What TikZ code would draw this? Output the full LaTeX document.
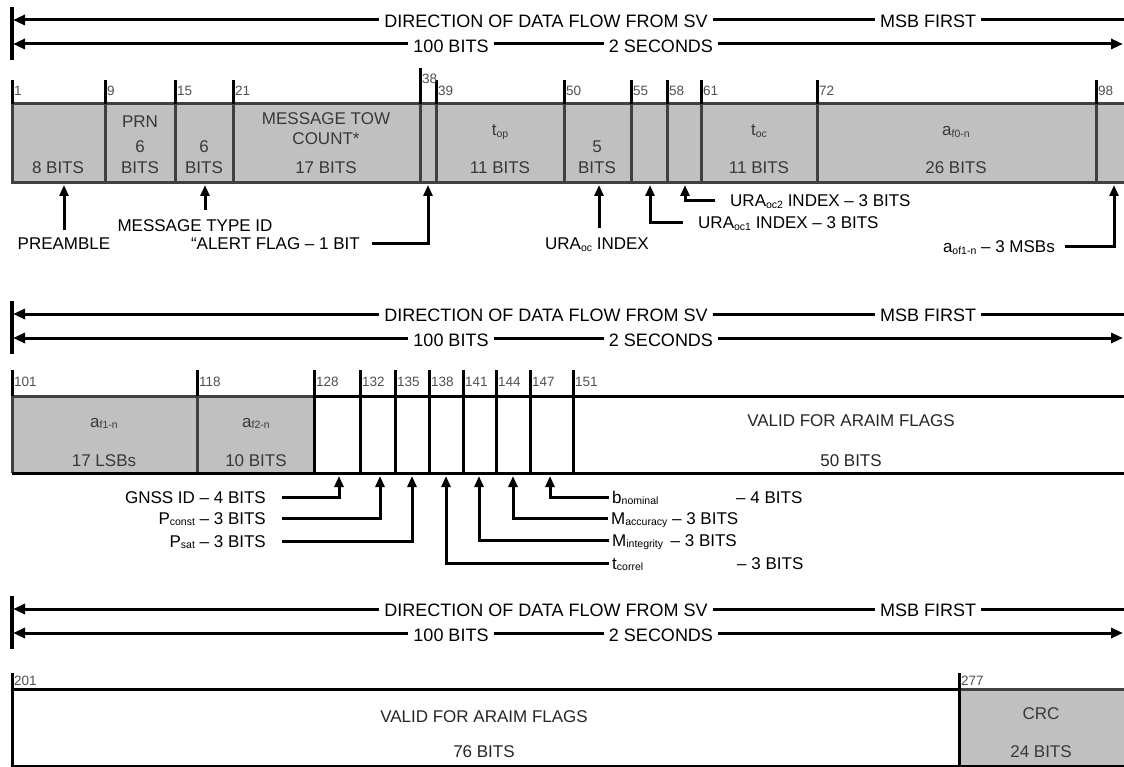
\documentclass[tikz,border=0pt]{standalone}
\usepackage{fontspec}
\setmainfont{Liberation Sans}
\usetikzlibrary{arrows.meta,calc}
\definecolor{boxgray}{HTML}{C0C0C0}
\definecolor{edgegray}{HTML}{404040}
\definecolor{txtgray}{HTML}{383838}
\definecolor{numgray}{HTML}{505050}
\newcommand\sbs[1]{\raisebox{-0.12ex}{\fontsize{10.5}{10.5}\selectfont #1}}
\newcommand\flowhdr[2]{%
\begin{scope}[yshift=-#2pt]
  \coordinate (#1bt) at (12,7); \coordinate (#1bb) at (12,60);
  \draw[hbar] (#1bt) -- (#1bb);
  \node[hdr] (#1dir) at (546,21) {DIRECTION OF DATA FLOW FROM SV};
  \node[hdr] (#1msb) at (928,21) {MSB FIRST};
  \node[hdr] (#1bits) at (451,46) {100 BITS};
  \node[hdr] (#1sec) at (661,46) {2 SECONDS};
  \coordinate (#1la) at (13,20); \coordinate (#1ra) at (1126,20);
  \coordinate (#1lb) at (13,44); \coordinate (#1rb) at (1123,44);
  \draw[harrow] (#1dir.west |- #1la) -- (#1la);
  \draw[hline] (#1dir.east |- #1la) -- (#1msb.west |- #1la);
  \draw[hline] (#1msb.east |- #1la) -- (#1ra);
  \draw[harrow] (#1bits.west |- #1lb) -- (#1lb);
  \draw[hline] (#1bits.east |- #1lb) -- (#1sec.west |- #1lb);
  \draw[harrow] (#1sec.east |- #1lb) -- (#1rb);
\end{scope}}
\begin{document}
\begin{tikzpicture}[x=1pt,y=-1pt,
  hdr/.style={font=\fontsize{18}{18}\selectfont, inner sep=0pt, outer sep=5pt, text height=13pt, text depth=0pt},
  lbl/.style={font=\fontsize{17}{17}\selectfont, inner sep=0pt, text height=12pt, text depth=0pt},
  btxt/.style={font=\fontsize{17}{17}\selectfont, text=txtgray, inner sep=0pt, text height=12pt, text depth=0pt},
  wtxt/.style={font=\fontsize{17}{17}\selectfont, text=black!85, inner sep=0pt, text height=12pt, text depth=0pt},
  num/.style={font=\fontsize{13.5}{13.5}\selectfont, text=numgray, anchor=west, inner sep=0pt, text height=9pt, text depth=0pt},
  hline/.style={line width=3pt},
  hbar/.style={line width=4pt},
  harrow/.style={line width=3pt, -{Triangle[length=12pt,width=10pt]}},
  tickln/.style={line width=3pt},
  grayedge/.style={line width=3pt, draw=edgegray},
  blackedge/.style={line width=3pt, draw=black},
  conn/.style={line width=3pt, -{Triangle[length=11pt,width=9pt]}},
]
\useasboundingbox[fill=white] (0,0) rectangle (1124,767);

% ---------------- headers
\flowhdr{ha}{0}
\flowhdr{hb}{294}
\flowhdr{hc}{589}

% ---------------- section 1 (bits 1-100)
\fill[boxgray] (12,104) rectangle (1130,183);
\foreach \x in {105,175,233,420,436,564,631,667,701,817,1096}
  \draw[grayedge] (\x,104) -- (\x,183);
\draw[grayedge] (1130,104) -- (12,104) -- (12,183) -- (1130,183);
\foreach \x/\n in {12/1,105/9,175/15,233/21,436/39,564/50,631/55,667/58,701/61,817/72,1096/98}{
  \draw[tickln] (\x,80) -- (\x,104);
  \node[num] (ta\n) at (\x+2,91) {\n};
}
\draw[tickln] (420,68) -- (420,104);
\node[num] (ta38) at (422,79) {38};

\node[btxt] (f1b) at (58,168) {8 BITS};
\node[btxt] (f2a) at (140,122) {PRN};
\node[btxt] (f2b) at (140,147) {6};
\node[btxt] (f2c) at (140,168) {BITS};
\node[btxt] (f3b) at (204,147) {6};
\node[btxt] (f3c) at (204,168) {BITS};
\node[btxt] (f4a) at (326,119) {MESSAGE TOW};
\node[btxt] (f4b) at (326,139) {COUNT*};
\node[btxt] (f4c) at (326,168) {17 BITS};
\node[btxt] (f6a) at (500,130) {t\sbs{op}};
\node[btxt] (f6b) at (500,168) {11 BITS};
\node[btxt] (f7a) at (597,147) {5};
\node[btxt] (f7b) at (597,168) {BITS};
\node[btxt] (f10a) at (759,130) {t\sbs{oc}};
\node[btxt] (f10b) at (759,168) {11 BITS};
\node[btxt] (f11a) at (956,130) {a\sbs{f0-n}};
\node[btxt] (f11b) at (956,168) {26 BITS};

\coordinate (tpre) at (64,185);
\coordinate (tmti) at (205,185);
\coordinate (talert) at (428,185);
\coordinate (turaoc) at (599,185);
\coordinate (tura1) at (650,185);
\coordinate (tura2) at (685,185);
\coordinate (taof) at (1114,185);

\node[lbl] (pre) at (64,244) {PREAMBLE};
\node[lbl] (mti) at (195,226) {MESSAGE TYPE ID};
\node[lbl, anchor=east] (alert) at (360,244) {“ALERT FLAG – 1 BIT};
\node[lbl] (uraoc) at (597,244) {URA\sbs{oc} INDEX};
\node[lbl, anchor=west] (ura1) at (698,223) {URA\sbs{oc1} INDEX – 3 BITS};
\node[lbl, anchor=west] (ura2) at (730,201) {URA\sbs{oc2} INDEX – 3 BITS};
\node[lbl, anchor=east] (aof) at (1055,247) {a\sbs{of1-n} – 3 MSBs};

\draw[conn] ([yshift=8pt]pre.north -| tpre) -- (tpre);
\draw[conn] ([yshift=10pt]mti.north -| tmti) -- (tmti);
\draw[conn] ([xshift=12pt]alert.east) -| (talert);
\draw[conn] ([yshift=10pt]uraoc.north -| turaoc) -- (turaoc);
\draw[conn] ([xshift=-15pt]ura1.west) -| (tura1);
\draw[conn] ([xshift=-15pt]ura2.west) -| (tura2);
\draw[conn] ([xshift=10pt]aof.east) -| (taof);

% ---------------- section 2 (bits 101-200)
\fill[boxgray] (12,396) rectangle (314,473);
\draw[grayedge] (197,396) -- (197,473);
\draw[grayedge] (314,396) -- (12,396) -- (12,473);
\draw[blackedge] (314,396) -- (1130,396);
\draw[blackedge] (12,473) -- (1130,473);
\foreach \x in {314,360,395,429,463,496,530,573}
  \draw[blackedge] (\x,396) -- (\x,473);
\foreach \x/\n in {12/101,197/118,314/128,360/132,395/135,429/138,463/141,496/144,530/147,573/151}{
  \draw[tickln] (\x,370) -- (\x,396);
  \node[num] (tb\n) at (\x+2,382) {\n};
}
\node[btxt] (g1a) at (104,421) {a\sbs{f1-n}};
\node[btxt] (g1b) at (104,460) {17 LSBs};
\node[btxt] (g2a) at (256,421) {a\sbs{f2-n}};
\node[btxt] (g2b) at (256,460) {10 BITS};
\node[wtxt] (g3a) at (851,420) {VALID FOR ARAIM FLAGS};
\node[wtxt] (g3b) at (851,460) {50 BITS};

\coordinate (tg1) at (339,476);
\coordinate (tg2) at (380,476);
\coordinate (tg3) at (412,476);
\coordinate (tg4) at (446,476);
\coordinate (tg5) at (479,476);
\coordinate (tg6) at (513,476);
\coordinate (tg7) at (550,476);

\node[lbl, anchor=east] (gnss) at (266,497) {GNSS ID – 4 BITS};
\node[lbl, anchor=east] (pconst) at (266,518) {P\sbs{const} – 3 BITS};
\node[lbl, anchor=east] (psat) at (266,541) {P\sbs{sat} – 3 BITS};
\node[lbl, anchor=west] (bnom) at (612,497) {b\sbs{nominal}};
\node[lbl, anchor=west] (bnomb) at (736,497) {– 4 BITS};
\node[lbl, anchor=west] (macc) at (611,518) {M\sbs{accuracy} – 3 BITS};
\node[lbl, anchor=west] (mint) at (612,540) {M\sbs{integrity}\, – 3 BITS};
\node[lbl, anchor=west] (tcor) at (612,563) {t\sbs{correl}};
\node[lbl, anchor=west] (tcorb) at (737,563) {– 3 BITS};

\draw[conn] ([xshift=16pt]gnss.east) -| (tg1);
\draw[conn] ([xshift=16pt]pconst.east) -| (tg2);
\draw[conn] ([xshift=16pt]psat.east) -| (tg3);
\draw[conn] ([xshift=-3pt]tcor.west) -| (tg4);
\draw[conn] ([xshift=-3pt]mint.west) -| (tg5);
\draw[conn] ([xshift=-3pt]macc.west) -| (tg6);
\draw[conn] ([xshift=-3pt]bnom.west) -| (tg7);

% ---------------- section 3 (bits 201-300)
\fill[boxgray] (959,689) rectangle (1130,767);
\draw[grayedge] (959,689) -- (1130,689);
\draw[blackedge] (959,689) -- (12,689) -- (12,767);
\draw[line width=2pt] (12,766) -- (1130,766);
\draw[blackedge] (959,689) -- (959,767);
\foreach \x/\n in {12/201,959/277}{
  \draw[tickln] (\x,673) -- (\x,689);
  \node[num] (tc\n) at (\x+2,681) {\n};
}
\node[wtxt] (h1a) at (484,716) {VALID FOR ARAIM FLAGS};
\node[wtxt] (h1b) at (484,751) {76 BITS};
\node[btxt] (h2a) at (1041,713) {CRC};
\node[btxt] (h2b) at (1041,751) {24 BITS};
\end{tikzpicture}
\end{document}
